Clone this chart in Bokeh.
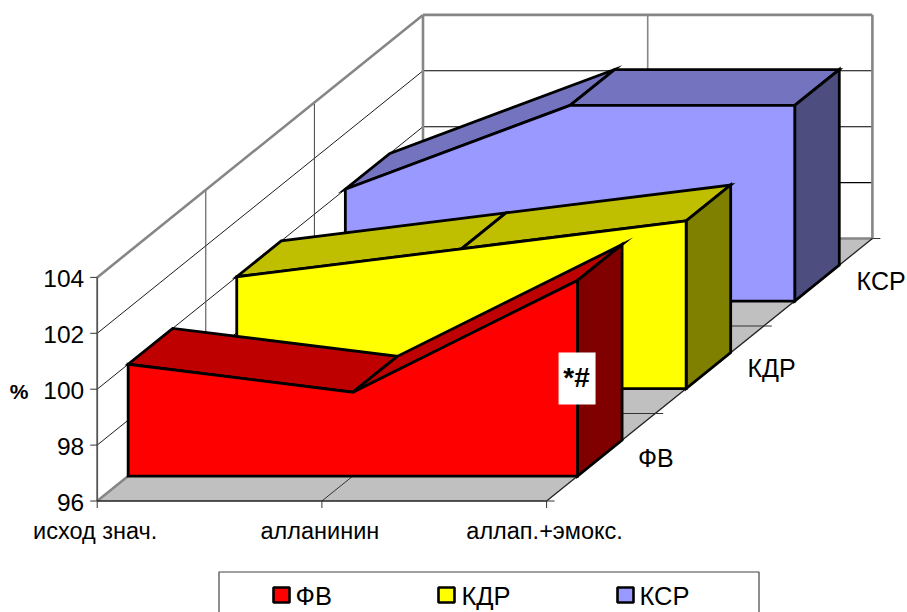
from bokeh.core.properties import value
from bokeh.embed import file_html
from bokeh.plotting import figure
from bokeh.resources import INLINE

categories = ["исход знач.", "алланинин", "аллап.+эмокс."]
series_names = ["ФВ", "КДР", "КСР"]
fv_values = [100, 99, 103]
kdr_values = [100, 101, 102]
ksr_values = [100, 103, 103]
value_ticks = [96, 98, 100, 102, 104]
front_colors = ["#FF0000", "#FFFF00", "#9999FF"]
top_colors = ["#BF0000", "#BFBF00", "#7373BF"]
side_colors = ["#800000", "#808000", "#4D4D80"]

# Oblique projection of the 3D area chart: category, depth band, value -> page pixels
ORIGIN_X, ORIGIN_Y = 96.7, 500.5
CAT_STEP = 224.7
DEPTH_X, DEPTH_Y = 108.6, -87.5
VALUE_STEP = 27.95
BASE = value_ticks[0]
TOP = value_ticks[-1]
BAND_FRONT, BAND_BACK = 0.285, 0.695


def proj(cat, depth, val):
    return (ORIGIN_X + cat * CAT_STEP + depth * DEPTH_X,
            ORIGIN_Y + depth * DEPTH_Y - (val - BASE) * VALUE_STEP)


p = figure(width=907, height=612, x_range=(0, 907), y_range=(612, 0),
           output_backend="svg", toolbar_location=None, min_border=0,
           x_axis_type=None, y_axis_type=None, outline_line_color=None)
p.grid.visible = False
p.background_fill_color = "white"
p.border_fill_color = "white"


def face(points, fill, line="black", width=2.8):
    xs, ys = zip(*points)
    p.patch(list(xs), list(ys), fill_color=fill, line_color=line, line_width=width,
            line_join="miter")


def seg(a, b, color="black", width=1.0):
    p.line([a[0], b[0]], [a[1], b[1]], line_color=color, line_width=width)


n_cat = len(categories) - 1
n_depth = len(series_names)
GRAY = "#868686"

# Walls and floor
face([proj(0, 0, BASE), proj(n_cat, 0, BASE), proj(n_cat, n_depth, BASE), proj(0, n_depth, BASE)],
     "#C0C0C0", line=None, width=0)

# Gridlines on the side and back walls
for v in value_ticks[1:-1]:
    seg(proj(0, 0, v), proj(0, n_depth, v), "black", 0.9)
    seg(proj(0, n_depth, v), proj(n_cat, n_depth, v), "black", 1.1)
for d in (1, 2):
    seg(proj(0, d, BASE), proj(0, d, TOP), "#444444", 1.0)
    seg(proj(0, d, BASE), proj(n_cat, d, BASE), "#333333", 1.0)
seg(proj(1, n_depth, BASE), proj(1, n_depth, TOP), GRAY, 1.6)
seg(proj(1, 0, BASE), proj(1, n_depth, BASE), "#333333", 1.0)

# Wall frame
seg(proj(0, 0, TOP), proj(0, n_depth, TOP), GRAY, 2.6)
seg(proj(0, n_depth, TOP), proj(n_cat, n_depth, TOP), GRAY, 2.6)
seg(proj(0, n_depth, BASE), proj(0, n_depth, TOP), GRAY, 2.6)
seg(proj(n_cat, n_depth, BASE), proj(n_cat, n_depth, TOP), GRAY, 2.6)
seg(proj(0, n_depth, BASE), proj(n_cat, n_depth, BASE), GRAY, 2.6)
seg(proj(0, 0, BASE), proj(0, n_depth, BASE), GRAY, 2.6)

# Axis lines and ticks
seg(proj(0, 0, BASE), proj(0, 0, TOP), "#555555", 1.8)
seg(proj(0, 0, BASE), proj(n_cat, 0, BASE), "#222222", 1.3)
seg(proj(n_cat, 0, BASE), proj(n_cat, n_depth, BASE), "#222222", 1.3)
for v in value_ticks:
    x0, y0 = proj(0, 0, v)
    seg((x0 - 7, y0), (x0, y0), "#333333", 1.0)
for c in range(n_cat + 1):
    x0, y0 = proj(c, 0, BASE)
    seg((x0, y0), (x0, y0 + 7), "#333333", 1.0)
for d in range(n_depth + 1):
    x0, y0 = proj(n_cat, d, BASE)
    seg((x0, y0), (x0 + 8, y0), "#333333", 1.0)

# Area slabs, drawn from the back row to the front row
all_values = [fv_values, kdr_values, ksr_values]
for i in reversed(range(n_depth)):
    vals = all_values[i]
    d0, d1 = i + BAND_FRONT, i + BAND_BACK
    for c in range(n_cat):
        face([proj(c, d0, vals[c]), proj(c + 1, d0, vals[c + 1]),
              proj(c + 1, d1, vals[c + 1]), proj(c, d1, vals[c])], top_colors[i])
    face([proj(n_cat, d0, vals[-1]), proj(n_cat, d1, vals[-1]),
          proj(n_cat, d1, BASE), proj(n_cat, d0, BASE)], side_colors[i])
    front = [proj(c, d0, vals[c]) for c in range(n_cat + 1)]
    front += [proj(n_cat, d0, BASE), proj(0, d0, BASE)]
    face(front, front_colors[i])

FONT = value("Liberation Sans")


def label(x, y, text, size, align="center", style="normal"):
    p.text([x], [y], text=[text], text_font=FONT, text_font_size=size, text_align=align,
           text_baseline="middle", text_color="black", text_font_style=style)


# Significance marker on the last point of the front series
mx, my = proj(n_cat, BAND_FRONT, fv_values[-1])
p.quad(left=[mx - 19], right=[mx + 18], top=[my + 72], bottom=[my + 124],
       fill_color="white", line_color=None)
label(mx - 1, my + 97, "*#", "28px", style="bold")

# Axis labels
for v in value_ticks:
    x0, y0 = proj(0, 0, v)
    label(x0 - 13, y0 + 1, str(v), "24.5px", align="right")
label(18.5, 391, "%", "21px", style="bold")
for c, name in enumerate(categories):
    x0, y0 = proj(c, 0, BASE)
    label(x0 - 2, y0 + 30, name, "23.5px")
for d, (name, dx, dy) in enumerate(zip(series_names, [55, 62, 63], [1, -2, -1])):
    x0, y0 = proj(n_cat, d + 0.5, BASE)
    label(x0 + dx, y0 + dy, name, "25px")

# Legend box runs past the bottom of the page
p.quad(left=[218.5], right=[758.5], top=[571.5], bottom=[640], fill_color="white",
       line_color="#444444", line_width=1.2)
for name, col, sw_x, tx_x in zip(series_names, front_colors, [273, 438, 617], [295, 461, 639]):
    p.quad(left=[sw_x], right=[sw_x + 16], top=[587], bottom=[602], fill_color=col,
           line_color="black", line_width=2.6)
    label(tx_x, 595, name, "25.5px", align="left")

open("out.html", "w").write(file_html(p, INLINE))
